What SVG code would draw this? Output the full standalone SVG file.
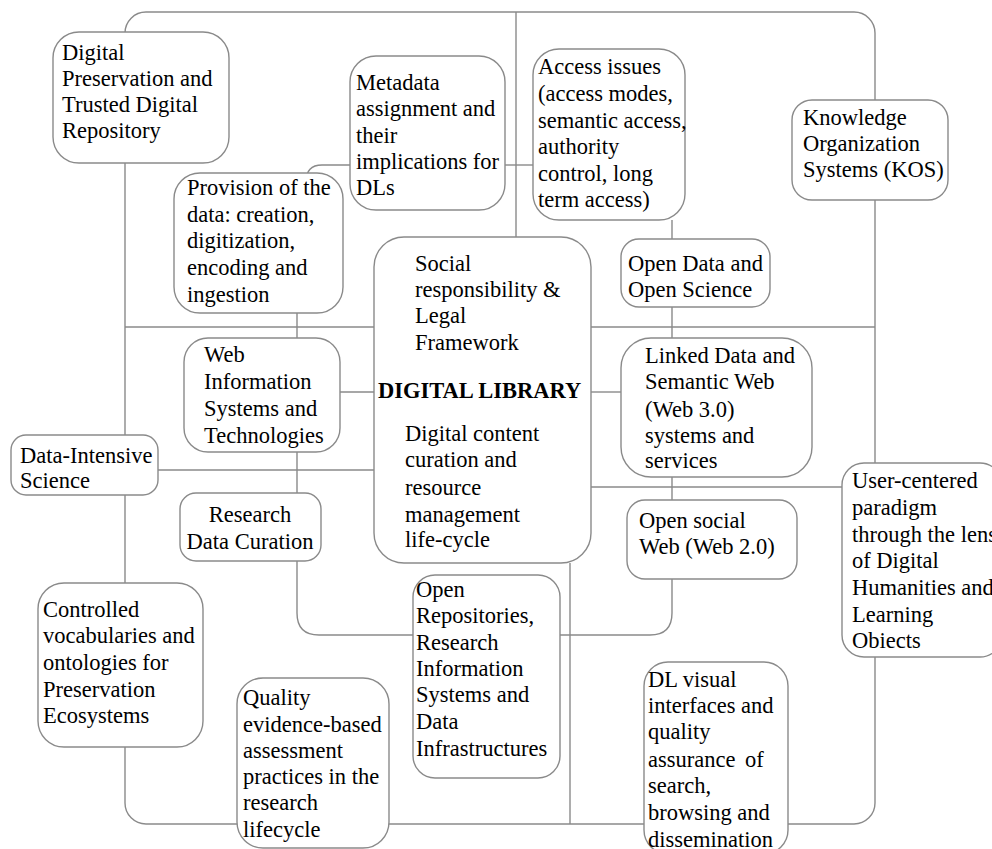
<svg xmlns="http://www.w3.org/2000/svg" width="992" height="849" viewBox="0 0 992 849">
<style>
.bg{fill:#ffffff}
.c{fill:none;stroke:#8a8a8a;stroke-width:1.4}
.n{fill:#ffffff;stroke:#8a8a8a;stroke-width:1.4}
text{font-family:"Liberation Serif","Times New Roman",serif;font-size:22.5px;fill:#000000}
.b{font-weight:bold}
</style>
<rect class="bg" x="0" y="0" width="992" height="849"/>
<g id="connectors">
<rect class="c" x="125" y="12" width="750" height="812" rx="21" ry="21"/>
<path class="c" d="M516,12 L516,238"/>
<path class="c" d="M505,165 L533,165"/>
<path class="c" d="M306,182 Q306,165 322,165 L350,165"/>
<path class="c" d="M125,327 L875,327"/>
<path class="c" d="M297,300 L297,613 Q297,635 319,635 L413,635"/>
<path class="c" d="M672,220 L672,613 Q672,635 650,635 L560,635"/>
<path class="c" d="M340,392 L374,392"/>
<path class="c" d="M591,392 L621,392"/>
<path class="c" d="M158,470 L374,470"/>
<path class="c" d="M591,487 L842,487"/>
<path class="c" d="M570,563 L570,824"/>
</g>
<g id="n-preservation">
<rect class="n" x="53" y="32" width="176" height="131" rx="26"/>
<text x="62" y="60">Digital</text>
<text x="62" y="86">Preservation and</text>
<text x="62" y="112">Trusted Digital</text>
<text x="62" y="138">Repository</text>
</g>
<g id="n-metadata">
<rect class="n" x="350" y="56" width="155" height="154" rx="26"/>
<text x="356" y="90">Metadata</text>
<text x="356" y="116">assignment and</text>
<text x="356" y="143">their</text>
<text x="356" y="169">implications for</text>
<text x="356" y="195">DLs</text>
</g>
<g id="n-provision">
<rect class="n" x="174" y="173" width="169" height="140" rx="26"/>
<text x="187" y="195">Provision of the</text>
<text x="187" y="222">data: creation,</text>
<text x="187" y="248">digitization,</text>
<text x="187" y="275">encoding and</text>
<text x="187" y="302">ingestion</text>
</g>
<g id="n-access">
<rect class="n" x="533" y="49" width="152" height="171" rx="26"/>
<text x="538" y="74">Access issues</text>
<text x="538" y="101">(access modes,</text>
<text x="538" y="128">semantic access,</text>
<text x="538" y="154">authority</text>
<text x="538" y="181">control, long</text>
<text x="538" y="207">term access)</text>
</g>
<g id="n-kos">
<rect class="n" x="792" y="100" width="156" height="100" rx="20"/>
<text x="803" y="125">Knowledge</text>
<text x="803" y="151">Organization</text>
<text x="803" y="177">Systems (KOS)</text>
</g>
<g id="n-digital-library">
<rect class="n" x="374" y="237" width="217" height="326" rx="30"/>
<text x="415" y="271">Social</text>
<text x="415" y="297">responsibility &amp;</text>
<text x="415" y="323">Legal</text>
<text x="415" y="350">Framework</text>
<text class="b" x="378" y="398">DIGITAL LIBRARY</text>
<text x="405" y="441">Digital content</text>
<text x="405" y="467">curation and</text>
<text x="405" y="495">resource</text>
<text x="405" y="522">management</text>
<text x="405" y="547">life-cycle</text>
</g>
<g id="n-open-data">
<rect class="n" x="621" y="239" width="149" height="68" rx="18"/>
<text x="628" y="271">Open Data and</text>
<text x="628" y="297">Open Science</text>
</g>
<g id="n-web-info">
<rect class="n" x="184" y="338" width="156" height="114" rx="24"/>
<text x="204" y="362">Web</text>
<text x="204" y="389">Information</text>
<text x="204" y="416">Systems and</text>
<text x="204" y="443">Technologies</text>
</g>
<g id="n-linked-data">
<rect class="n" x="621" y="338" width="191" height="139" rx="30"/>
<text x="645" y="363">Linked Data and</text>
<text x="645" y="389">Semantic Web</text>
<text x="645" y="417">(Web 3.0)</text>
<text x="645" y="443">systems and</text>
<text x="645" y="468">services</text>
</g>
<g id="n-data-intensive">
<rect class="n" x="11" y="435" width="147" height="60" rx="15"/>
<text x="20" y="463">Data-Intensive</text>
<text x="20" y="488">Science</text>
</g>
<g id="n-research-data">
<rect class="n" x="180" y="493" width="141" height="68" rx="16"/>
<text x="250" y="522" text-anchor="middle">Research</text>
<text x="250" y="549" text-anchor="middle">Data Curation</text>
</g>
<g id="n-open-social">
<rect class="n" x="627" y="500" width="170" height="79" rx="18"/>
<text x="639" y="528">Open social</text>
<text x="639" y="554">Web (Web 2.0)</text>
</g>
<g id="n-user-centered">
<rect class="n" x="842" y="463" width="160" height="194" rx="22"/>
<text x="852" y="488">User-centered</text>
<text x="852" y="515">paradigm</text>
<text x="852" y="542">through the lens</text>
<text x="852" y="568">of Digital</text>
<text x="852" y="595">Humanities and</text>
<text x="852" y="622">Learning</text>
<text x="852" y="648">Obiects</text>
</g>
<g id="n-controlled">
<rect class="n" x="38" y="583" width="165" height="164" rx="26"/>
<text x="43" y="617">Controlled</text>
<text x="43" y="643">vocabularies and</text>
<text x="43" y="670">ontologies for</text>
<text x="43" y="697">Preservation</text>
<text x="43" y="723">Ecosystems</text>
</g>
<g id="n-open-repositories">
<rect class="n" x="413" y="575" width="147" height="203" rx="22"/>
<text x="416" y="597">Open</text>
<text x="416" y="623">Repositories,</text>
<text x="416" y="650">Research</text>
<text x="416" y="676">Information</text>
<text x="416" y="702">Systems and</text>
<text x="416" y="729">Data</text>
<text x="416" y="756">Infrastructures</text>
</g>
<g id="n-quality">
<rect class="n" x="237" y="678" width="152" height="170" rx="26"/>
<text x="243" y="705">Quality</text>
<text x="243" y="732">evidence-based</text>
<text x="243" y="758">assessment</text>
<text x="243" y="784">practices in the</text>
<text x="243" y="810">research</text>
<text x="243" y="837">lifecycle</text>
</g>
<g id="n-dl-visual">
<rect class="n" x="644" y="662" width="144" height="192" rx="24"/>
<text x="648" y="687">DL visual</text>
<text x="648" y="713">interfaces and</text>
<text x="648" y="739">quality</text>
<text x="648" y="767">assurance<tspan x="745">of</tspan></text>
<text x="648" y="793">search,</text>
<text x="648" y="820">browsing and</text>
<text x="648" y="847">dissemination</text>
</g>
</svg>
